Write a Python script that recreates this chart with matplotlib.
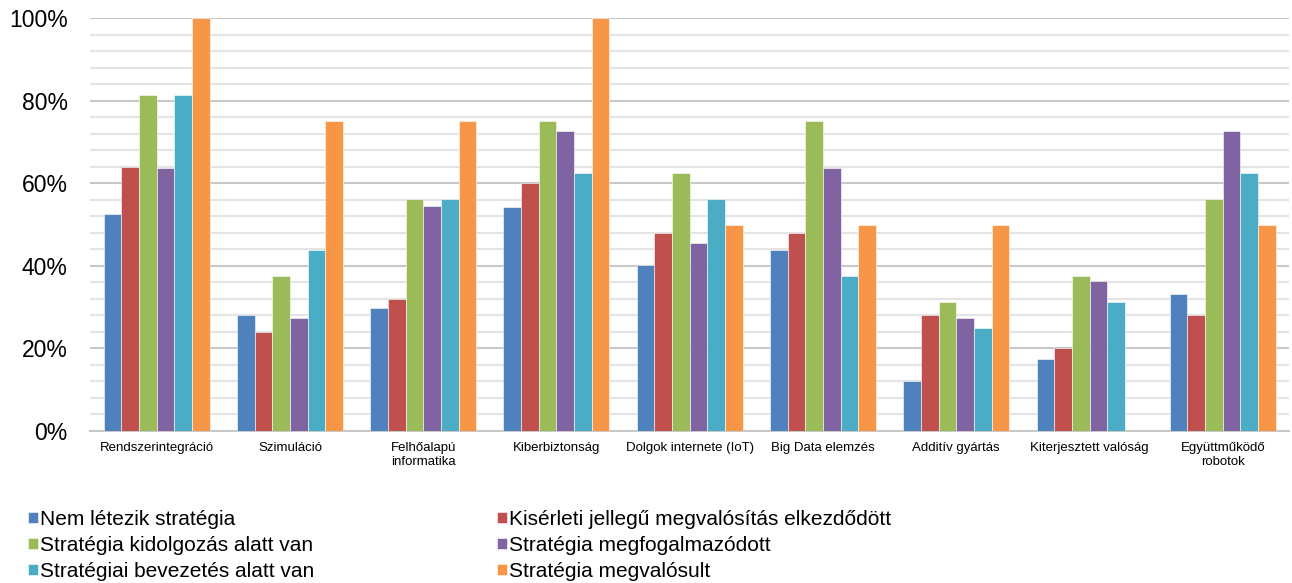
import numpy as np
import matplotlib
matplotlib.use("Agg")
import matplotlib.pyplot as plt
from matplotlib.ticker import MultipleLocator, FuncFormatter

plt.rcParams['font.family'] = ['Liberation Sans', 'DejaVu Sans']

categories = ["Rendszerintegráció", "Szimuláció", "Felhőalapú\ninformatika",
              "Kiberbiztonság", "Dolgok internete (IoT)", "Big Data elemzés",
              "Additív gyártás", "Kiterjesztett valóság", "Együttműködő\nrobotok"]

series_names = ["Nem létezik stratégia",
                "Kisérleti jellegű megvalósítás elkezdődött",
                "Stratégia kidolgozás alatt van",
                "Stratégia megfogalmazódott",
                "Stratégiai bevezetés alatt van",
                "Stratégia megvalósult"]

nem_letezik = [52.5, 28.0, 29.7, 54.3, 40.3, 43.8, 12.1, 17.4, 33.3]
kiserleti = [64.0, 24.0, 32.0, 60.0, 48.0, 48.0, 28.0, 20.0, 28.0]
kidolgozas = [81.25, 37.5, 56.25, 75.0, 62.5, 75.0, 31.25, 37.5, 56.25]
megfogalmazodott = [63.6, 27.3, 54.5, 72.7, 45.5, 63.6, 27.3, 36.4, 72.7]
bevezetes = [81.25, 43.75, 56.25, 62.5, 56.25, 37.5, 25.0, 31.25, 62.5]
megvalosult = [100.0, 75.0, 75.0, 100.0, 50.0, 50.0, 50.0, 0.0, 50.0]

colors = ["#4F81BD", "#C0504D", "#9BBB59", "#8064A2", "#4BACC6", "#F79646"]

values = [nem_letezik, kiserleti, kidolgozas, megfogalmazodott, bevezetes, megvalosult]

fig = plt.figure(figsize=(12.92, 5.83), dpi=100)
ax = fig.add_axes([0.0697, 0.2607, 0.9283, 0.7083])

x = np.arange(len(categories))
w = 0.1325
handles = []
for i, (vals, col, name) in enumerate(zip(values, colors, series_names)):
    b = ax.bar(x + (i - 2.5) * w, vals, w, color=col, edgecolor="white",
               linewidth=0.4, label=name, zorder=3)
    handles.append(b)

ax.set_xlim(-0.5, len(categories) - 0.5)
ax.set_ylim(0, 100)
ax.yaxis.set_major_locator(MultipleLocator(20))
ax.yaxis.set_minor_locator(MultipleLocator(4))
ax.yaxis.set_major_formatter(FuncFormatter(lambda v, p: f"{v:.0f}%"))
ax.grid(axis="y", which="major", color="#c8c8c8", linewidth=1.5, zorder=0)
ax.grid(axis="y", which="minor", color="#e4e4e4", linewidth=1.5, zorder=0)
ax.set_xticks(x)
ax.set_xticklabels(categories, fontsize=9.5, linespacing=1.25)
ax.tick_params(axis="both", which="both", length=0)
ax.tick_params(axis="y", labelsize=16.5, pad=16)
ax.tick_params(axis="x", pad=8)
for s in ["top", "right", "left"]:
    ax.spines[s].set_visible(False)
ax.spines["bottom"].set_color("#c8c8c8")
ax.spines["bottom"].set_linewidth(1.5)

order = [0, 2, 4, 1, 3, 5]
fig.legend([handles[k] for k in order], [series_names[k] for k in order],
           ncol=2, loc="upper left", bbox_to_anchor=(0.022, 0.125),
           frameon=False, fontsize=15, handlelength=0.45, handleheight=0.45,
           handletextpad=0.1, labelspacing=0.33, columnspacing=8.8,
           borderpad=0, borderaxespad=0)

fig.savefig("out.png", dpi=100)
